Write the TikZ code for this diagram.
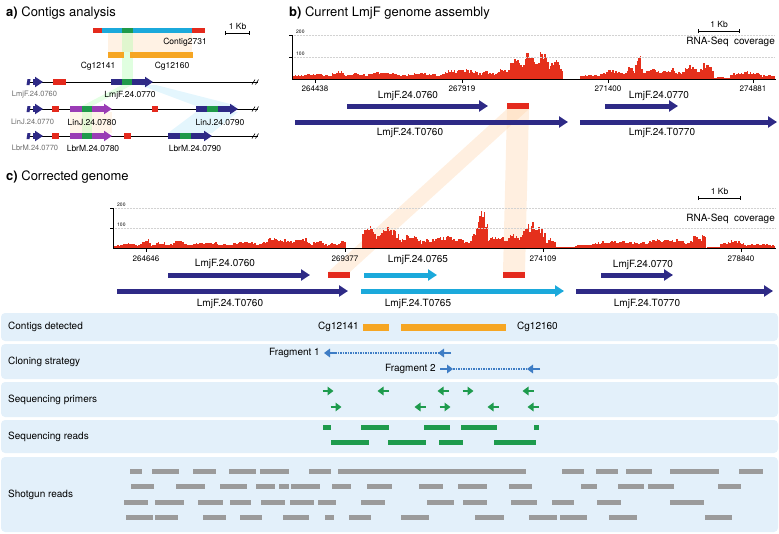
\documentclass[tikz,border=0pt]{standalone}
\usepackage{fontspec}
\setmainfont{TeX Gyre Heros}
\usetikzlibrary{arrows.meta}

\definecolor{genenavy}{HTML}{2E2A86}
\definecolor{genecyan}{HTML}{1BA9DB}
\definecolor{genered}{HTML}{E42A1D}
\definecolor{covred}{HTML}{E5301C}
\definecolor{genegreen}{HTML}{1F9A4A}
\definecolor{genepurple}{HTML}{9A3CB5}
\definecolor{contigorange}{HTML}{F6A623}
\definecolor{bandblue}{HTML}{E3F0FA}
\definecolor{fragblue}{HTML}{3E7DC5}
\definecolor{primgreen}{HTML}{1E9B4D}
\definecolor{readgrey}{HTML}{9B9B9B}

\begin{document}
\begin{tikzpicture}[x=1pt, y=-1pt,
    every node/.style={inner sep=0pt, font=\fontsize{9}{10}\selectfont},
    paneltitle/.style={anchor=west, font=\fontsize{13}{15}\selectfont},
    glabel/.style={font=\fontsize{10}{12}\selectfont},
    alabel/.style={font=\fontsize{8.5}{10}\selectfont},
    greylabel/.style={font=\fontsize{7.5}{9}\selectfont, text=gray!85!black},
    ticklabel/.style={font=\fontsize{8}{9}\selectfont},
    axlabel/.style={font=\fontsize{5}{6}\selectfont, anchor=south west},
    blabel/.style={font=\fontsize{10}{12}\selectfont},
    gene/.style={line width=5pt, -{Triangle[length=9pt, width=11pt]}},
    smallgene/.style={line width=6pt, -{Triangle[length=8pt, width=10pt]}},
    scalebar/.style={{Bar[width=4pt]}-{Bar[width=4pt]}, line width=0.6pt},
    grid line/.style={gray!35, densely dotted, line width=0.5pt},
    band/.style={fill=bandblue, rounded corners=4pt},
    primer/.style={line width=2.6pt, -{Triangle[length=6pt, width=8.5pt]}},
    fragline/.style={fragblue, line width=1.3pt, dash pattern=on 1.5pt off 1pt},
    link/.style={opacity=0.35}
]
\useasboundingbox (0,0) rectangle (779,533);

% links between tracks
\fill[orange!30, link] (108,33) rectangle (192,52);
\fill[green!35, link] (122,33) rectangle (133,79);
\fill[green!30, link] (122,85) -- (132,85) -- (92,106) -- (82,106) -- cycle;
\fill[orange!25, link] (70,112) rectangle (112,133);
\fill[green!30, link] (82,112) rectangle (92,133);
\fill[cyan!30, link] (140,85) -- (156,85) -- (238,106) -- (196,106) -- cycle;
\fill[cyan!30, link] (196,112) -- (238,112) -- (212,133) -- (168,133) -- cycle;
\fill[orange!35, link] (507,109) -- (529,109) -- (350,272) -- (328,272) -- cycle;
\fill[orange!35, link] (507,109) -- (529,109) -- (525,272) -- (503,272) -- cycle;

%% a) contigs analysis
\node[paneltitle] (ta) at (6,13) {\textbf{a)} Contigs analysis};
\fill[genered] (93,28) rectangle (205,33);
\fill[genecyan] (102,28) rectangle (192,33);
\fill[genegreen] (122,28) rectangle (133,33);
\node[alabel] (contig) at (185,42) {Contig2731};
\draw[scalebar] (225,33) -- (250,33);
\node[alabel] (kba) at (237.5,26) {1 Kb};
\fill[contigorange] (108,52) rectangle (124,58);
\fill[contigorange] (130,52) rectangle (193,58);
\node[alabel] (cga1) at (98,66) {Cg12141};
\node[alabel] (cga2) at (172,66) {Cg12160};

\foreach \y in {82,109,136}{
  \draw[line width=0.6pt] (30,\y) -- (258,\y);
  \draw[line width=0.6pt] (252,\y+2.5) -- (255,\y-2.5) (255.5,\y+2.5) -- (258.5,\y-2.5);
  \fill[genenavy] (27.5,\y-3) -- (30.5,\y-3) -- (29.5,\y+3) -- (26.5,\y+3) -- cycle;
  \draw[smallgene, genenavy] (33,\y) -- (43,\y);
}
\fill[genered] (53,79) rectangle (66,85);
\fill[genered] (52,106) rectangle (59,112);
\fill[genered] (152,106) rectangle (158,112);
\fill[genered] (52,133) rectangle (59,139);
\fill[genered] (124,133) rectangle (131,139);

\draw[smallgene, genenavy] (111,82) -- (153,82);
\fill[genegreen] (122,79) rectangle (132,85);
\draw[smallgene, genepurple] (70,109) -- (112,109);
\fill[genegreen] (82,106) rectangle (92,112);
\draw[smallgene, genenavy] (196,109) -- (238,109);
\fill[genegreen] (207,106) rectangle (218,112);
\draw[smallgene, genepurple] (70,136) -- (112,136);
\fill[genegreen] (82,133) rectangle (92,139);
\draw[smallgene, genenavy] (168,136) -- (212,136);
\fill[genegreen] (180,133) rectangle (191,139);

\node[greylabel] (lm0760) at (34.5,95) {LmjF.24.0760};
\node[alabel] (lm0770) at (130,95) {LmjF.24.0770};
\node[greylabel] (li0770) at (32.5,122) {LinJ.24.0770};
\node[alabel] (li0780) at (92,122) {LinJ.24.0780};
\node[alabel] (li0790) at (220,122) {LinJ.24.0790};
\node[greylabel] (lb0770) at (35,148) {LbrM.24.0770};
\node[alabel] (lb0780) at (93,148) {LbrM.24.0780};
\node[alabel] (lb0790) at (195,148) {LbrM.24.0790};

%% b) current assembly
\node[paneltitle] (tb) at (289,13) {\textbf{b)} Current LmjF genome assembly};
\pgfmathsetseed{11}
\foreach \xa/\xb/\lv in {293/330/6, 330/345/9, 345/365/7, 365/400/8, 400/440/7,
    440/480/11, 480/495/9, 495/508/12, 508/520/24, 520/535/29, 535/548/31,
    548/562/20, 562/580/0, 580/600/5, 600/625/10, 625/635/13, 635/641/29,
    641/660/12, 660/680/11, 680/700/14, 700/712/19, 712/730/2, 730/760/9, 760/774/5}{
  \pgfmathsetmacro{\xs}{\xa+1.5}
  \foreach \x in {\xa,\xs,...,\xb}{
    \pgfmathsetmacro{\hh}{\lv*(0.55+0.45*sin(180*(\x-\xa)/(\xb-\xa)))*(0.6+0.4*rnd)}
    \fill[covred] (\x,79) rectangle (\x+1.6,79-\hh);
  }
}
\draw[grid line] (292,35) -- (775,35);
\draw[grid line] (292,57) -- (775,57);
\draw[line width=0.6pt] (289,35) -- (292,35) -- (292,79) -- (776,79);
\draw[line width=0.6pt] (289,57) -- (292,57);
\node[axlabel] (b200) at (296,34) {200};
\node[axlabel] (b100) at (296,56) {100};
\foreach \x/\t in {315/264438, 462/267919, 608/271400, 753/274881}{
  \draw[line width=0.6pt] (\x,79) -- (\x,83);
  \node[ticklabel] (tb\t) at (\x,89) {\t};
}
\node[glabel, anchor=east] (rnab) at (775,42) {RNA-Seq~ coverage};
\draw[scalebar] (698,31) -- (740,31);
\node[alabel] (kbb) at (719,24) {1 Kb};

\draw[gene, genenavy] (347,106) -- (488,106);
\fill[genered] (507,103) rectangle (529,109);
\draw[gene, genenavy] (605,106) -- (678,106);
\draw[gene, genenavy] (295,122) -- (568,122);
\draw[gene, genenavy] (580,122) -- (777,122);
\node[glabel] (bg0760) at (408,96) {LmjF.24.0760};
\node[glabel] (bg0770) at (659,96) {LmjF.24.0770};
\node[glabel] (bt0760) at (410,133) {LmjF.24.T0760};
\node[glabel] (bt0770) at (662,133) {LmjF.24.T0770};

%% c) corrected genome
\node[paneltitle] (tc) at (6,177) {\textbf{c)} Corrected genome};
\foreach \xa/\xb/\lv in {114/140/5, 140/150/10, 150/170/6, 170/185/8, 185/230/6,
    230/260/7, 260/290/11, 290/310/12, 310/325/8, 325/338/5, 338/345/10,
    345/362/0, 362/375/26, 375/400/22, 400/420/15, 420/470/12, 470/476/19,
    476/487/40, 487/505/14, 505/520/15, 520/545/27, 545/555/11, 555/575/1.5,
    575/590/5, 590/640/8, 640/690/10, 690/700/13, 700/705/20, 705/720/1,
    720/745/8, 745/774/5}{
  \pgfmathsetmacro{\xs}{\xa+1.5}
  \foreach \x in {\xa,\xs,...,\xb}{
    \pgfmathsetmacro{\hh}{\lv*(0.55+0.45*sin(180*(\x-\xa)/(\xb-\xa)))*(0.6+0.4*rnd)}
    \fill[covred] (\x,248) rectangle (\x+1.6,248-\hh);
  }
}
\draw[grid line] (113,208) -- (775,208);
\draw[grid line] (113,228) -- (775,228);
\draw[line width=0.6pt] (110,208) -- (113,208) -- (113,248) -- (776,248);
\draw[line width=0.6pt] (110,228) -- (113,228);
\node[axlabel] (c200) at (117,207) {200};
\node[axlabel] (c100) at (117,227) {100};
\foreach \x/\t in {146/264646, 345/269377, 543/274109, 741/278840}{
  \draw[line width=0.6pt] (\x,248) -- (\x,252);
  \node[ticklabel] (tc\t) at (\x,259) {\t};
}
\node[glabel, anchor=east] (rnac) at (775,219) {RNA-Seq~ coverage};
\draw[scalebar] (698,198) -- (741,198);
\node[alabel] (kbc) at (719.5,191) {1 Kb};

\draw[gene, genenavy] (168,275) -- (310,275);
\fill[genered] (328,272) rectangle (350,278);
\draw[gene, genecyan] (364,275) -- (437,275);
\fill[genered] (503,272) rectangle (525,278);
\draw[gene, genenavy] (601,275) -- (673,275);
\draw[gene, genenavy] (117,291) -- (348,291);
\draw[gene, genecyan] (361,291) -- (564,291);
\draw[gene, genenavy] (576,291) -- (773,291);
\node[glabel] (cg0760) at (225,264) {LmjF.24.0760};
\node[glabel] (cg0765) at (418,260) {LmjF.24.0765};
\node[glabel] (cg0770) at (643,265) {LmjF.24.0770};
\node[glabel] (ct0760) at (230,304) {LmjF.24.T0760};
\node[glabel] (ct0765) at (418,304) {LmjF.24.T0765};
\node[glabel] (ct0770) at (647,304) {LmjF.24.T0770};

%% tracks below
\foreach \y/\h/\t [count=\i] in {313/28/Contigs detected, 344/35/Cloning strategy,
    382/35/Sequencing primers, 420/33/Sequencing reads, 457/75/Shotgun reads}{
  \fill[band] (1,\y) rectangle (778,\y+\h);
  \node[blabel, anchor=west] (track\i) at (8,\y+\h/2) {\t};
}

% contigs
\fill[contigorange] (363,323.5) rectangle (389,330.5);
\fill[contigorange] (401,323.5) rectangle (506,330.5);
\node[blabel, anchor=east] (cg1) at (359,327) {Cg12141};
\node[blabel, anchor=west] (cg2) at (517,327) {Cg12160};

% cloning
\coordinate (f1a) at (330,353);
\coordinate (f1b) at (444,353);
\coordinate (f2a) at (448,369);
\coordinate (f2b) at (533,369);
\draw[fragline] (f1a) -- (f1b);
\draw[fragline] (f2a) -- (f2b);
\draw[primer, fragblue] (336,353) -- (324,353);
\draw[primer, fragblue] (451,353) -- (438,353);
\draw[primer, fragblue] (440,369) -- (453,369);
\draw[primer, fragblue] (540,369) -- (527,369);
\node[blabel, anchor=east] (frag1) at (320,353) {Fragment 1};
\node[blabel, anchor=east] (frag2) at (436,369) {Fragment 2};

% primers
\foreach \x/\y/\d in {328/391/1, 383/391/-1, 443/391/-1, 468/391/1, 528/391/-1,
    336/407/1, 420/407/-1, 445/407/1, 493/407/-1, 533/407/-1}
  \draw[primer, primgreen] (\x-5.5*\d,\y) -- (\x+5.5*\d,\y);

% sequencing reads
\foreach \y/\segs in {427/{323/331,361/389,424/450,461/497,534/539},
    442/{331/369,388/426,439/463,494/536}}
  \foreach \xa/\xb in \segs
    \fill[primgreen] (\xa,\y-2.5) rectangle (\xb,\y+2.5);

% shotgun reads
\foreach \y/\segs in {
    471/{130/142,152/179,193/216,229/256,260/289,309/331,338/526,562/584,596/618,626/652,670/719,739/763},
    486/{131/154,176/205,220/247,256/275,279/289,291/320,332/351,367/392,419/443,458/487,509/532,581/597,618/644,648/674,718/741},
    502/{124/148,155/184,198/223,230/251,261/285,290/314,318/336,361/385,427/454,463/487,511/537,552/574,597/621,670/704},
    517/{126/153,155/178,203/226,240/262,283/309,325/334,349/371,401/429,475/504,529/557,560/587,609/637,705/732}}
  \foreach \xa/\xb in \segs
    \fill[readgrey] (\xa,\y-2.5) rectangle (\xb,\y+2.5);

\end{tikzpicture}
\end{document}
